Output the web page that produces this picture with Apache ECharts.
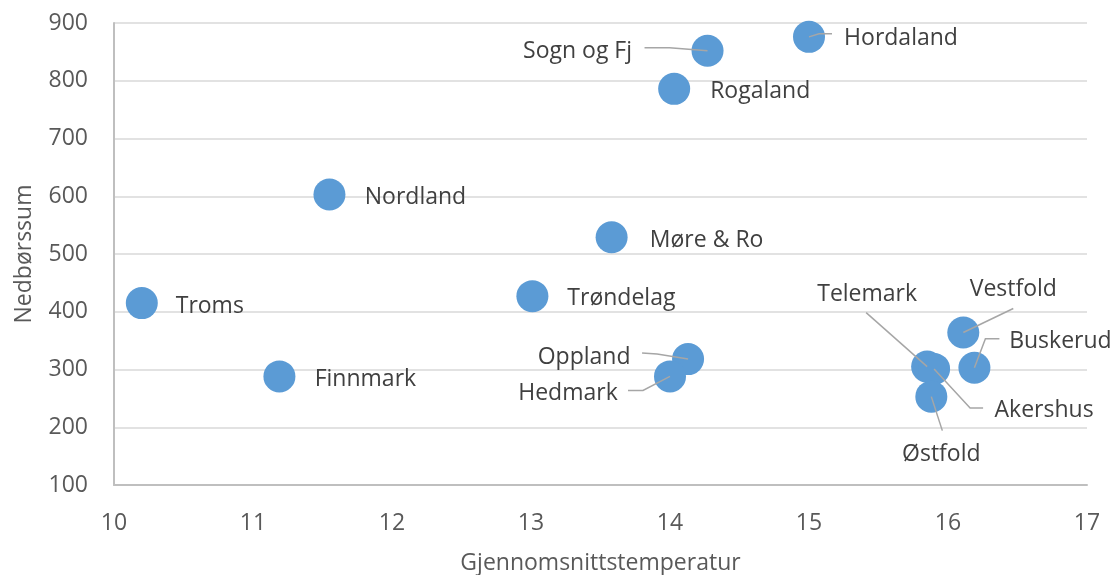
<!DOCTYPE html>
<html>
<head>
<meta charset="utf-8">
<script src="https://cdn.jsdelivr.net/npm/echarts@6/dist/echarts.min.js"></script>
<style>
  html, body { margin: 0; padding: 0; background: #fff; }
  #chart { width: 1114px; height: 575px; }
</style>
</head>
<body>
<div id="chart"></div>
<script>
// fylker
const names = ['Troms', 'Finnmark', 'Nordland', 'Trøndelag', 'Møre & Ro', 'Rogaland', 'Sogn og Fj', 'Hordaland',
  'Oppland', 'Hedmark', 'Telemark', 'Akershus', 'Vestfold', 'Buskerud', 'Østfold'];
// gjennomsnittstemperatur
const temps = [10.2, 11.19, 11.55, 13.01, 13.58, 14.03, 14.27, 15.0, 14.13, 14.0, 15.85, 15.9, 16.11, 16.19, 15.88];
// nedbørssum
const rain = [415, 288, 603, 427, 529, 786, 852, 876, 318, 288, 305, 301, 364, 303, 253];

// etikett-forskyvning (fra punktets sentrum til tekstens sentrum)
const labelDx = [68, 86, 86, 89, 95, 86, -130, 92, -104, -102, -60, 110, 50, 86, 10];
const labelDy = [1, 1, 1, 0, 1, 1, -1, 0, -4, 15, -74, 40, -45, -28, 56];
// hjelpelinjer: knekkpunkter relativt til punktet (null = ingen linje)
const leaderLines = [null, null, null, null, null, null,
  [[-38, -3], [-63, -3]],   // Sogn og Fj
  [[10, -3], [23, -3]],     // Hordaland
  [[-31, -5], [-46, -6]],   // Oppland
  [[-27, 14], [-42, 14]],   // Hedmark
  [[-61, -54]],             // Telemark
  [[36, 39], [49, 39]],     // Akershus
  [[50, -24]],              // Vestfold
  [[11, -29], [25, -29]],   // Buskerud
  [[11, 34]]                // Østfold
];

const font = '"Open Sans", "Noto Sans", sans-serif';

const chart = echarts.init(document.getElementById('chart'));

const option = {
  animation: false,
  grid: { left: 114, right: 27, top: 23, bottom: 90, containLabel: false, outerBoundsMode: 'none' },
  xAxis: {
    type: 'value',
    min: 10,
    max: 17,
    interval: 1,
    name: 'Gjennomsnittstemperatur',
    nameLocation: 'middle',
    nameGap: 67,
    nameTextStyle: { color: '#595959', fontSize: 23, fontFamily: font },
    axisLine: { show: true, lineStyle: { color: '#bfbfbf', width: 2 } },
    axisTick: { show: false },
    splitLine: { show: false },
    axisLabel: { color: '#595959', fontSize: 23, fontFamily: font, margin: 27 }
  },
  yAxis: {
    type: 'value',
    min: 100,
    max: 900,
    interval: 100,
    name: 'Nedbørssum',
    nameLocation: 'middle',
    nameGap: 78,
    nameTextStyle: { color: '#595959', fontSize: 23, fontFamily: font },
    axisLine: { show: true, lineStyle: { color: '#bfbfbf', width: 2 } },
    axisTick: { show: false },
    splitLine: { lineStyle: { color: '#d9d9d9', width: 1.5 } },
    axisLabel: { color: '#595959', fontSize: 23, fontFamily: font, margin: 26, padding: [5, 0, 0, 0] }
  },
  series: [{
    type: 'scatter',
    symbolSize: 32,
    itemStyle: { color: '#5b9bd5', opacity: 1 },
    label: {
      show: true,
      position: 'inside',
      formatter: '{b}',
      color: '#404040',
      fontSize: 23,
      fontFamily: font
    },
    labelLayout: function (params) {
      const i = params.dataIndex;
      return { dx: labelDx[i], dy: labelDy[i] + 2 };
    },
    data: names.map(function (n, i) {
      return { name: n, value: [temps[i], rain[i]] };
    })
  }, {
    // hjelpelinjer over punktene
    type: 'custom',
    z: 5,
    silent: true,
    data: names.map(function (n, i) { return [temps[i], rain[i], i]; }),
    renderItem: function (params, api) {
      const i = api.value(2);
      const bends = leaderLines[i];
      if (!bends) return null;
      const p = api.coord([api.value(0), api.value(1)]);
      const pts = [p].concat(bends.map(function (b) { return [p[0] + b[0], p[1] + b[1]]; }));
      return {
        type: 'polyline',
        shape: { points: pts },
        style: { stroke: '#a6a6a6', lineWidth: 1.5, fill: null }
      };
    }
  }]
};

option && chart.setOption(option);
</script>
</body>
</html>
